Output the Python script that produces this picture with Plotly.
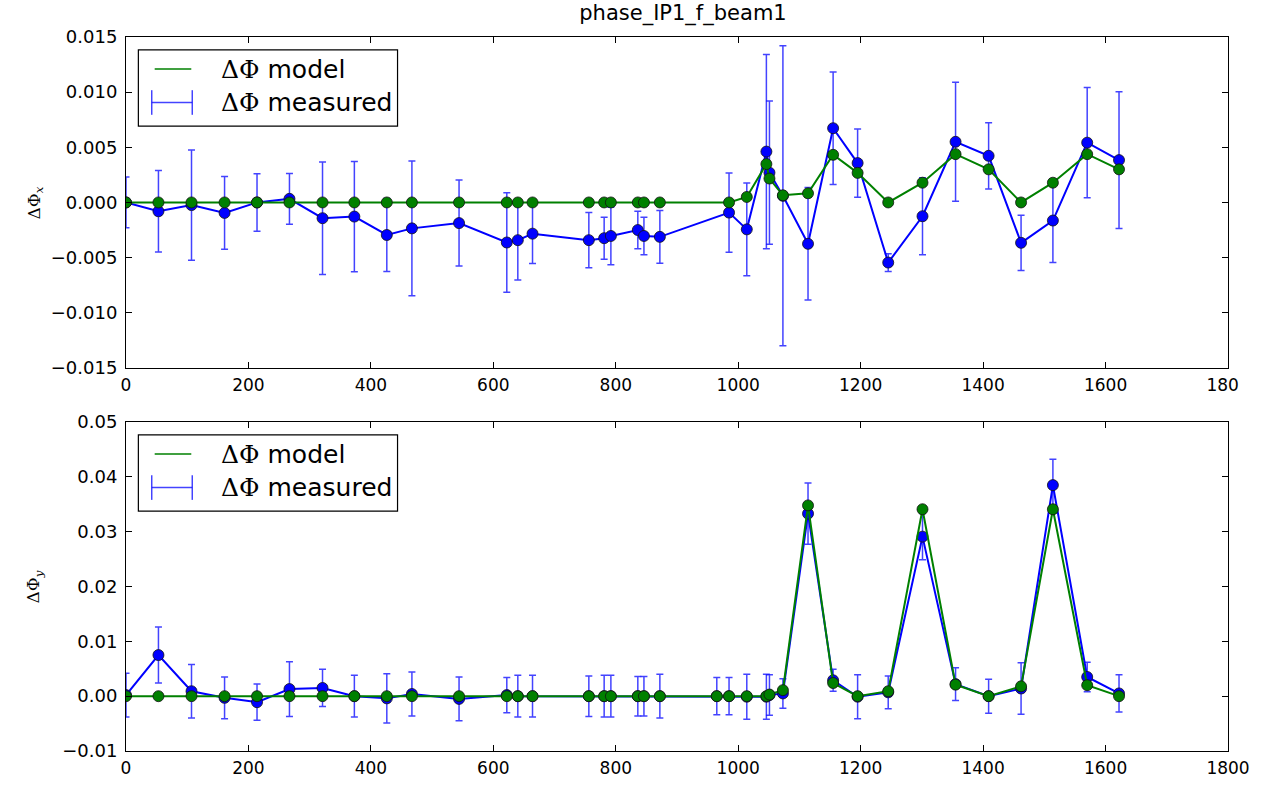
import plotly.graph_objects as go

# ---------------- data ----------------
s_top = [0, 53, 107, 161, 214, 267, 321, 373, 426, 467, 544, 622, 640, 664, 756, 781, 792,
         836, 846, 872, 985, 1014, 1046, 1051, 1073, 1114, 1155, 1195, 1245, 1301, 1355,
         1409, 1462, 1514, 1570, 1622]
meas_x = [0.0, -0.0008, -0.00024, -0.00095, 0.0, 0.00033, -0.00143, -0.00128, -0.00295,
          -0.00235, -0.00187, -0.00363, -0.00342, -0.00283, -0.00342, -0.00324, -0.00304,
          -0.0025, -0.00304, -0.00312, -0.00092, -0.00244, 0.00461, 0.0027, 0.0006,
          -0.00375, 0.00673, 0.00357, -0.00545, -0.00125, 0.0055, 0.00423, -0.00366,
          -0.00164, 0.00542, 0.00384]
err_x = [0.0023, 0.0037, 0.005, 0.0033, 0.0026, 0.0023, 0.0051, 0.005, 0.0033, 0.0061,
         0.0039, 0.0045, 0.0036, 0.0027, 0.0025, 0.0019, 0.0026, 0.0017, 0.0017, 0.0024,
         0.0036, 0.0042, 0.0088, 0.0065, 0.0136, 0.0051, 0.0051, 0.0031, 0.0008, 0.0035,
         0.0054, 0.003, 0.0025, 0.0038, 0.005, 0.0062]
model_x = [0.0, 0.0, 0.0, 0.0, 0.0, 0.0, 0.0, 0.0, 0.0, 0.0, 0.0, 0.0, 0.0, 0.0, 0.0, 0.0,
           0.0, 0.0, 0.0, 0.0, 0.0, 0.0005, 0.00348, 0.00217, 0.00065, 0.00083, 0.00432,
           0.00268, 0.0, 0.00179, 0.00438, 0.003, 0.0, 0.00179, 0.00438, 0.003]

s_bot = [0, 53, 107, 161, 214, 267, 321, 373, 426, 467, 544, 622, 640, 664, 756, 781, 792,
         836, 846, 872, 965, 985, 1014, 1046, 1051, 1073, 1114, 1155, 1195, 1245, 1301,
         1355, 1409, 1462, 1514, 1570, 1622]
meas_y = [0.0002, 0.0075, 0.0009, -0.0003, -0.0011, 0.0013, 0.0015, 0.0, -0.0004, 0.0004,
          -0.0005, 0.0002, 0.0, 0.0, 0.0, 0.0, 0.0, 0.0, 0.0, 0.0, 0.0, 0.0, -0.0001,
          -0.0001, 0.0002, 0.0005, 0.0333, 0.0029, -0.0001, 0.0007, 0.0291, 0.0022, 0.0,
          0.0014, 0.0385, 0.0035, 0.0005]
err_y = [0.004, 0.0051, 0.0049, 0.0038, 0.0033, 0.005, 0.0034, 0.0038, 0.0045, 0.004,
         0.004, 0.0032, 0.0038, 0.0038, 0.0037, 0.0038, 0.0038, 0.0036, 0.0036, 0.004,
         0.0034, 0.0034, 0.0041, 0.0041, 0.0037, 0.0027, 0.0056, 0.002, 0.004, 0.003,
         0.0042, 0.003, 0.0031, 0.0047, 0.0047, 0.0027, 0.0034]
model_y = [0.0, 0.0, 0.0, 0.0, 0.0, 0.0, 0.0, 0.0, 0.0, 0.0, 0.0, 0.0, 0.0, 0.0, 0.0, 0.0,
           0.0, 0.0, 0.0, 0.0, 0.0, 0.0, 0.0, 0.0, 0.0003, 0.0011, 0.0348, 0.0024, 0.0,
           0.0009, 0.0341, 0.0021, 0.0, 0.0018, 0.0341, 0.002, 0.0]

x_ticks = [0, 200, 400, 600, 800, 1000, 1200, 1400, 1600, 1800]
x_ticktext_top = ["0", "200", "400", "600", "800", "1000", "1200", "1400", "1600", "180\u2007"]
x_ticktext_bot = ["0", "200", "400", "600", "800", "1000", "1200", "1400", "1600", "1800"]

title_text = "phase_IP1_f_beam1"
DPHI = '<span style="font-family:DejaVu Serif">\u0394\u03a6</span>'
lbl_model = DPHI + " model"
lbl_meas = DPHI + " measured"
ylab_top = "\u0394\u03a6<sub><i>x</i></sub>"
ylab_bot = "\u0394\u03a6<sub><i>y</i></sub>"

# ---------------- styles / geometry ----------------
BLUE = "#0000ff"
GREEN = "#008000"
ERR = "rgba(20,20,255,0.8)"
FONT = "DejaVu Sans"

W, H = 1262, 790
ml, mr, mt, mb = 126, 22, 37, 28
pw = W - ml - mr
ph = H - mt - mb
top_lo = 1 - (373 - mt) / ph
bot_hi = (762 - 428) / ph


def px(x):
    return (x - ml) / pw


def py(y):
    return 1 - (y - mt) / ph


fig = go.Figure()


def add_panel(xs, meas, err, model, xa, ya):
    fig.add_trace(go.Scatter(
        x=xs, y=meas, xaxis=xa, yaxis=ya, mode="lines+markers",
        line=dict(color=BLUE, width=2),
        marker=dict(color=BLUE, size=11, line=dict(color="#111111", width=0.8)),
        error_y=dict(type="data", array=err, visible=True, color=ERR,
                     thickness=1.5, width=3.5),
        showlegend=False, hoverinfo="skip", name=lbl_meas))
    fig.add_trace(go.Scatter(
        x=xs, y=model, xaxis=xa, yaxis=ya, mode="lines+markers",
        line=dict(color=GREEN, width=2),
        marker=dict(color=GREEN, size=11, line=dict(color="#111111", width=0.8)),
        showlegend=False, hoverinfo="skip", name=lbl_model))


add_panel(s_top, meas_x, err_x, model_x, "x", "y")
add_panel(s_bot, meas_y, err_y, model_y, "x2", "y2")


def add_legend(dy):
    # legend frame
    fig.add_shape(type="rect", xref="paper", yref="paper",
                  x0=px(138.5), x1=px(400.5), y0=py(50 + dy), y1=py(127.5 + dy),
                  fillcolor="white", line=dict(color="black", width=1.2), layer="above")
    # model sample (plain line)
    fig.add_shape(type="line", xref="paper", yref="paper",
                  x0=px(155), x1=px(192), y0=py(69.5 + dy), y1=py(69.5 + dy),
                  line=dict(color=GREEN, width=1.5), layer="above")
    # measured sample (errorbar glyph)
    fig.add_shape(type="line", xref="paper", yref="paper",
                  x0=px(152), x1=px(193), y0=py(103.5 + dy), y1=py(103.5 + dy),
                  line=dict(color=ERR, width=1.5), layer="above")
    for cx in (152, 193):
        fig.add_shape(type="line", xref="paper", yref="paper",
                      x0=px(cx), x1=px(cx), y0=py(91 + dy), y1=py(116 + dy),
                      line=dict(color=ERR, width=1.5), layer="above")
    for txt, yy in ((lbl_model, 69.5), (lbl_meas, 103.5)):
        fig.add_annotation(text=txt, xref="paper", yref="paper", x=px(220), y=py(yy + dy),
                           xanchor="left", yanchor="middle", showarrow=False,
                           font=dict(family=FONT, size=25, color="black"))


add_legend(0)
add_legend(391)

axis_common = dict(
    showgrid=False, zeroline=False, showline=True, linecolor="black", linewidth=1,
    mirror="ticks", ticks="inside", ticklen=6, tickcolor="black",
)
xfont = dict(family=FONT, size=17, color="black")
yfont = dict(family=FONT, size=18, color="black")

fig.update_layout(
    width=W, height=H,
    margin=dict(l=ml, r=mr, t=mt, b=mb),
    paper_bgcolor="white", plot_bgcolor="white",
    xaxis=dict(domain=[0, 1], range=[0, 1800], anchor="y", tickvals=x_ticks,
               ticktext=x_ticktext_top, tickfont=xfont, ticklabelstandoff=2, **axis_common),
    yaxis=dict(domain=[top_lo, 1], range=[-0.015, 0.015], dtick=0.005, tick0=0,
               tickformat=".3f", tickfont=yfont, ticklabelstandoff=4, anchor="x", **axis_common),
    xaxis2=dict(domain=[0, 1], range=[0, 1800], anchor="y2", tickvals=x_ticks,
                ticktext=x_ticktext_bot, tickfont=xfont, ticklabelstandoff=2, **axis_common),
    yaxis2=dict(domain=[0, bot_hi], range=[-0.01, 0.05], dtick=0.01, tick0=0,
                tickformat=".2f", tickfont=yfont, ticklabelstandoff=4, anchor="x2", **axis_common),
    title=dict(text=title_text, x=683 / W, xanchor="center", y=1 - 13 / H,
               yanchor="middle", font=dict(family=FONT, size=21, color="black")),
    showlegend=False,
)

fig.add_annotation(text=ylab_top, xref="paper", yref="paper",
                   x=px(34), y=(top_lo + 1) / 2, xanchor="center", yanchor="middle",
                   textangle=-90, showarrow=False,
                   font=dict(family="DejaVu Serif", size=17, color="black"))
fig.add_annotation(text=ylab_bot, xref="paper", yref="paper",
                   x=px(34), y=bot_hi / 2, xanchor="center", yanchor="middle",
                   textangle=-90, showarrow=False,
                   font=dict(family="DejaVu Serif", size=17, color="black"))

fig.write_html("out.html")
